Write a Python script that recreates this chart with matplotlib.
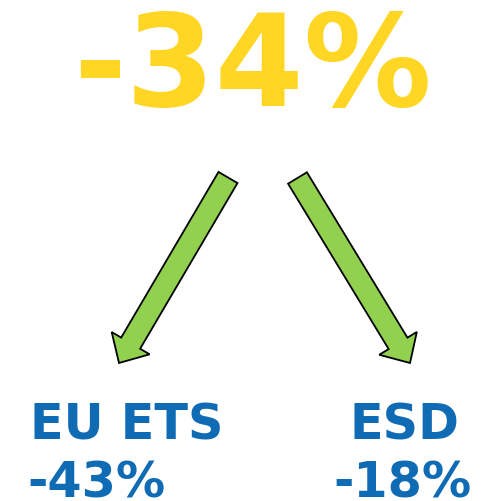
import matplotlib.pyplot as plt
from matplotlib.patches import FancyArrow

total_label = "-34%"
sector_names = ["EU ETS", "ESD"]
sector_values = ["-43%", "-18%"]

yellow = "#FFD624"
blue = "#106BB5"
green = "#92D050"

fig = plt.figure(figsize=(4.94, 5.01), dpi=100)
ax = fig.add_axes([0, 0, 1, 1])
ax.set_xlim(0, 494)
ax.set_ylim(501, 0)
ax.axis("off")

# headline figure
ax.text(252, 106, total_label, color=yellow, fontsize=92, fontweight="bold",
        ha="center", va="baseline", family="DejaVu Sans")

# arrows: (tail x, tail y, tip x, tip y)
arrows = [(228, 177.5, 119, 363), (297.5, 178, 410, 363)]
for x0, y0, x1, y1 in arrows:
    ax.add_patch(FancyArrow(x0, y0, x1 - x0, y1 - y0, width=22, head_width=44,
                            head_length=23, length_includes_head=True,
                            facecolor=green, edgecolor="black", linewidth=1.3))

# sector labels
name_x = [127, 404]
value_x = [96, 402]
for name, val, nx, vx in zip(sector_names, sector_values, name_x, value_x):
    ax.text(nx, 440, name, color=blue, fontsize=35.5, fontweight="bold",
            ha="center", va="baseline")
    ax.text(vx, 497, val, color=blue, fontsize=35.5, fontweight="bold",
            ha="center", va="baseline")

fig.savefig("out.png", dpi=100)
